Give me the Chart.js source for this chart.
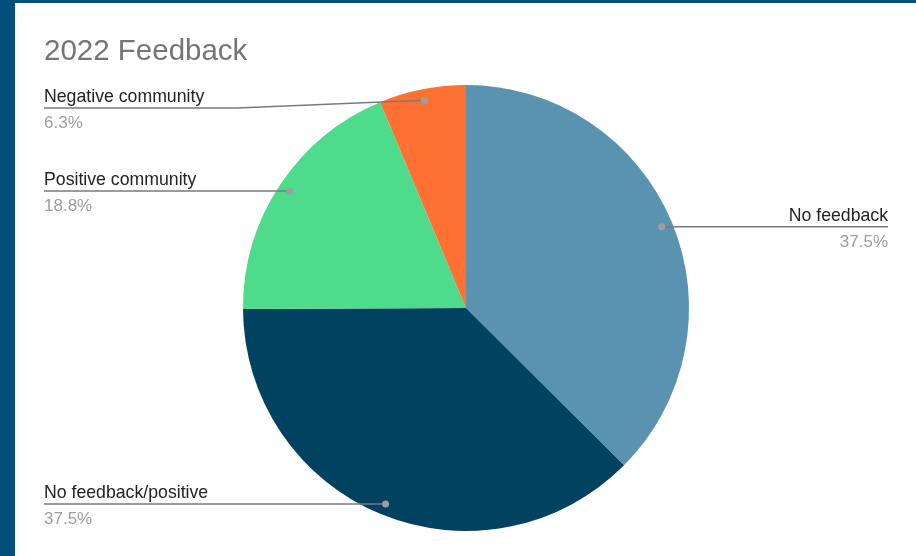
<!DOCTYPE html>
<html>
<head>
<meta charset="utf-8">
<title>2022 Feedback</title>
<script src="https://cdn.jsdelivr.net/npm/chart.js@4.4.1/dist/chart.umd.min.js"></script>
<style>
  html, body { margin: 0; padding: 0; }
  body { width: 916px; height: 556px; background: #03507d; position: relative; overflow: hidden; }
  #wrap { position: absolute; left: 15px; top: 3px; width: 901px; height: 553px; background: #fff; }
</style>
</head>
<body>
<div id="wrap"><canvas id="chart" width="901" height="553"></canvas></div>
<script>
const chartTitle = '2022 Feedback';
const categories = ['No feedback', 'No feedback/positive', 'Positive community', 'Negative community'];
const shares = [37.5, 37.5, 18.8, 6.3];
const sliceColors = ['#5a93b0', '#00425f', '#4edc8c', '#ff7033'];

// labels with leader lines, drawn from the arc geometry
const calloutPlugin = {
  id: 'callouts',
  afterDatasetsDraw(chart) {
    const ctx = chart.ctx;
    const area = chart.chartArea;
    const meta = chart.getDatasetMeta(0);
    const total = shares.reduce((a, b) => a + b, 0);
    const leftX = 29, rightX = 873, minLineY = 105;

    ctx.save();
    // title
    ctx.font = '29.5px "Liberation Sans", Arial, sans-serif';
    ctx.fillStyle = '#757575';
    ctx.textAlign = 'left';
    ctx.textBaseline = 'alphabetic';
    ctx.fillText(chartTitle, leftX, 57);

    meta.data.forEach((arc, i) => {
      const p = arc.getProps(['x', 'y', 'startAngle', 'endAngle', 'outerRadius'], true);
      const mid = (p.startAngle + p.endAngle) / 2;
      const dotX = p.x + Math.cos(mid) * p.outerRadius * 0.95;
      const dotY = p.y + Math.sin(mid) * p.outerRadius * 0.95;
      const right = dotX > p.x;
      const lineY = Math.max(dotY, minLineY);
      const endX = right ? rightX : leftX;
      const elbowX = right ? area.right + 6 : area.left - 6;

      ctx.strokeStyle = '#7a7a7a';
      ctx.lineWidth = 1.5;
      ctx.beginPath();
      ctx.moveTo(endX, lineY);
      if (Math.abs(lineY - dotY) > 0.5) {
        ctx.lineTo(elbowX, lineY);
      }
      ctx.lineTo(dotX, dotY);
      ctx.stroke();

      ctx.fillStyle = '#9e9e9e';
      ctx.beginPath();
      ctx.arc(dotX, dotY, 3.5, 0, Math.PI * 2);
      ctx.fill();

      ctx.textAlign = right ? 'right' : 'left';
      ctx.font = '17.7px "Liberation Sans", Arial, sans-serif';
      ctx.fillStyle = '#222222';
      ctx.fillText(categories[i], endX, lineY - 6);
      ctx.font = '17px "Liberation Sans", Arial, sans-serif';
      ctx.fillStyle = '#9e9e9e';
      ctx.fillText((shares[i] / total * 100).toFixed(1) + '%', endX, lineY + 20);
    });
    ctx.restore();
  }
};

new Chart(document.getElementById('chart').getContext('2d'), {
  type: 'pie',
  data: {
    labels: categories,
    datasets: [{
      data: shares,
      backgroundColor: sliceColors,
      borderWidth: 0,
      hoverOffset: 0
    }]
  },
  options: {
    responsive: false,
    animation: false,
    events: [],
    layout: {
      padding: { left: 228, right: 227, top: 82, bottom: 25 }
    },
    plugins: {
      legend: { display: false },
      tooltip: { enabled: false },
      title: { display: false }
    }
  },
  plugins: [calloutPlugin]
});
</script>
</body>
</html>
